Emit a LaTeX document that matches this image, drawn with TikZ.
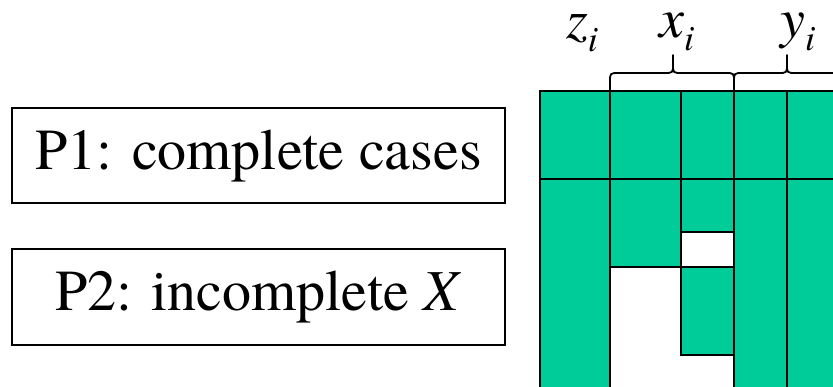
\documentclass[tikz,border=0pt]{standalone}
\usepackage{fontspec}
\newfontfamily\timesfont{texgyretermes}[Extension=.otf,UprightFont=*-regular,ItalicFont=*-italic]
\begin{document}
\definecolor{cellgreen}{RGB}{0,204,153}
\newcommand{\bracepath}[3]{% left end, tip, right end
  \draw[bracestyle] (#1,91) -- (#1,82) .. controls (#1,73) .. ({#1+9},73)
    -- ({#2-9},73) .. controls (#2,73) .. (#2,64) -- (#2,55)
    (#2,64) .. controls (#2,73) .. ({#2+9},73)
    -- ({#3-9},73) .. controls (#3,73) .. (#3,82) -- (#3,91);}
\newcommand{\varname}[2]{#1\raisebox{-13pt}{\fontsize{36}{40}\selectfont #2}}
\begin{tikzpicture}[x=1pt,y=-1pt,
  labelbox/.style={draw,line width=1.3pt,minimum width=493pt,inner sep=0pt,
    font=\timesfont\fontsize{58}{70}\selectfont},
  gridline/.style={line width=2pt,line cap=rect},
  bracestyle/.style={line width=1.8pt,line cap=round,line join=round},
  varlab/.style={anchor=base west,inner sep=0pt,font=\timesfont\fontsize{56}{60}\selectfont\itshape}]
\useasboundingbox (0,0) rectangle (833,387);

% case-type boxes
\node[labelbox,minimum height=95pt] (p1) at (258.5,155.5) {P1: complete cases};
\node[labelbox,minimum height=96pt] (p2) at (258.5,297) {P2: incomplete \textit{X}};

\begin{scope}
\clip (0,0) rectangle (833,387);
% data matrix: observed cells green, missing cells white
\fill[cellgreen] (540,91) rectangle (870,400);
\fill[white] (610,267) rectangle (681,400);
\fill[white] (681,355) rectangle (734,400);
\fill[white] (681,232) rectangle (734,267);

\draw[gridline] (540,400) -- (540,91) -- (870,91);
\draw[gridline] (540,179) -- (870,179);
\draw[gridline] (610,91) -- (610,400);
\draw[gridline] (681,91) -- (681,355);
\draw[gridline] (734,91) -- (734,400);
\draw[gridline] (787,91) -- (787,400);
\draw[gridline] (610,267) -- (734,267);
\draw[gridline] (681,232) -- (734,232);
\draw[gridline] (681,355) -- (734,355);

% column group braces
\bracepath{610}{673}{734}
\bracepath{734}{787}{840}
\end{scope}

% variable labels
\node[varlab] (zlab) at (566,39) {\varname{z}{i}};
\node[varlab] (xlab) at (659,38) {\varname{x}{i}};
\node[varlab] (ylab) at (780,38) {\varname{y}{i}};
\end{tikzpicture}
\end{document}
